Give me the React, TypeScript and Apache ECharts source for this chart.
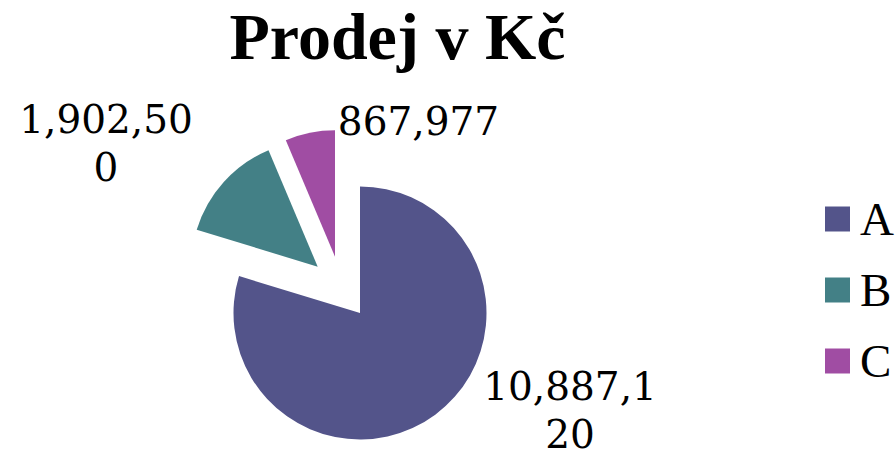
import React, { useEffect, useRef } from 'react';
import * as echarts from 'echarts';

const titleText = 'Prodej v Kč';
const categories = ['A', 'B', 'C'];
const values = [10887120, 1902500, 867977];
const colors = ['#53548A', '#438086', '#A04DA3'];

const FONT = '"Liberation Serif", "Times New Roman", serif';
const LABEL_FONT = '"DejaVu Serif", Georgia, serif';
const RADIUS = 126.5;
// centre of each (exploded) slice
const sliceCenters: [number, number][] = [
  [360, 313],
  [317.7, 266.7],
  [335, 256.7],
];

function wrapLabel(v: number, n = 8): string {
  const s = v.toLocaleString('en-US');
  const parts: string[] = [];
  for (let i = 0; i < s.length; i += n) parts.push(s.slice(i, i + n));
  return parts.join('\n');
}

// label anchor relative to slice bounding rect
function labelPos(idx: number, r: { x: number; y: number; width: number; height: number }) {
  if (idx === 0) return { x: r.x + r.width + 83.5, y: r.y + r.height - 29 };
  if (idx === 1) return { x: r.x - 90.7, y: r.y - 6.7 };
  return { x: r.x + r.width + 83.5, y: r.y - 8.7 };
}

export default function App() {
  const ref = useRef<HTMLDivElement>(null);
  useEffect(() => {
    if (!ref.current) return;
    const chart = echarts.init(ref.current, undefined, { renderer: 'svg' });
    const series = categories.map((_, si) => ({
      type: 'pie' as const,
      name: 'slice' + si,
      center: sliceCenters[si],
      radius: RADIUS,
      startAngle: 90,
      clockwise: true,
      silent: true,
      avoidLabelOverlap: false,
      label: {
        show: false,
        position: 'inside',
        color: '#000',
        fontFamily: LABEL_FONT,
        fontSize: 39,
        lineHeight: 48,
        overflow: 'none',
        formatter: (p: any) => wrapLabel(p.value),
      },
      labelLine: { show: false },
      labelLayout: (params: any) => {
        if (params.dataIndex !== si) return {};
        const pos = labelPos(si, params.rect);
        return { x: pos.x, y: pos.y, align: 'center', verticalAlign: 'middle' };
      },
      emphasis: { disabled: true },
      data: categories.map((name, i) => ({
        name,
        value: values[i],
        itemStyle: { color: i === si ? colors[i] : 'rgba(0,0,0,0)' },
        label: { show: i === si },
      })),
    }));
    chart.setOption({
      animation: false,
      backgroundColor: '#fff',
      title: {
        text: titleText,
        left: 392.5,
        top: -2,
        textAlign: 'center',
        textStyle: {
          fontFamily: FONT,
          fontWeight: 'bold',
          fontSize: 66,
          lineHeight: 66,
          color: '#000',
        },
      },
      legend: {
        orient: 'vertical',
        left: 820,
        top: 190.5,
        icon: 'rect',
        itemWidth: 25,
        itemHeight: 25,
        itemGap: 24,
        selectedMode: false,
        textStyle: {
          fontFamily: FONT,
          fontSize: 47,
          lineHeight: 46,
          color: '#000',
          padding: [0, 0, 0, 5],
        },
        data: categories.map((name, i) => ({ name, itemStyle: { color: colors[i] } })),
      },
      series,
    });
    return () => chart.dispose();
  }, []);
  return (
    <div
      ref={ref}
      style={{ position: 'absolute', left: 0, top: 0, width: 895, height: 458 }}
    />
  );
}
